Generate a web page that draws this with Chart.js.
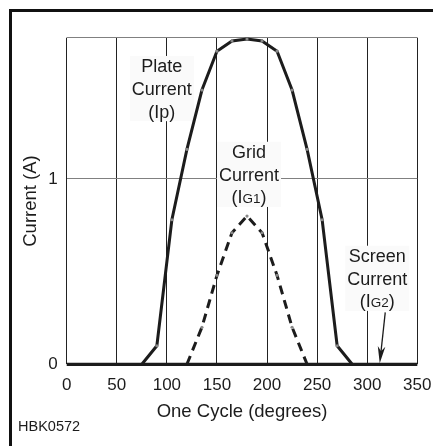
<!DOCTYPE html>
<html><head><meta charset="utf-8">
<script src="https://cdn.jsdelivr.net/npm/chart.js@4/dist/chart.umd.min.js"></script>
<style>html,body{margin:0;padding:0;background:#fff;}canvas{display:block;}</style>
</head><body>
<canvas id="c" width="433" height="446"></canvas>
<script>
// ---- data ----
const xTicks = [0, 50, 100, 150, 200, 250, 300, 350];
const yTicks = [0, 1];
const yMax = 1.7625;
const plateDeg  = [75, 90, 105, 120, 135, 150, 165, 180, 195, 210, 225, 240, 255, 270, 285];
const plateAmps = [0, 0.1, 0.78, 1.16, 1.48, 1.69, 1.745, 1.755, 1.745, 1.69, 1.48, 1.16, 0.78, 0.1, 0];
const gridDeg   = [120, 135, 150, 165, 180, 195, 210, 225, 240];
const gridAmps  = [0, 0.2, 0.48, 0.71, 0.8, 0.71, 0.48, 0.2, 0];
const screenDeg  = [0, 350];
const screenAmps = [0, 0];
const xTitle = 'One Cycle (degrees)';
const yTitle = 'Current (A)';
const figureId = 'HBK0572';
// label text lines; segments starting with "_" are drawn smaller (subscript style)
const plateLabel  = [['Plate'], ['Current'], ['(Ip)']];
const gridLabel   = [['Grid'], ['Current'], ['(I', '_G1', ')']];
const screenLabel = [['Screen'], ['Current'], ['(I', '_G2', ')']];
// label anchors in data units (degrees, amps) of first line centre
const plateAnchor  = [95, 1.61];
const gridAnchor   = [182, 1.147];
const screenAnchor = [310, 0.586];
const arrowFrom = [318, 0.28];
const arrowTo   = [312.5, 0];

const FONT = "'Liberation Sans', Arial, Helvetica, sans-serif";
const INK = '#1c1c1c';
const pts = (xs, ys) => xs.map((x, i) => ({x: x, y: ys[i]}));

const annot = {
  id: 'annot',
  beforeDraw(chart) {
    const ctx = chart.ctx;
    ctx.save();
    ctx.fillStyle = '#fff';
    ctx.fillRect(0, 0, chart.width, chart.height);
    ctx.strokeStyle = '#111';
    ctx.lineWidth = 3;
    ctx.beginPath();
    ctx.moveTo(10.5, chart.height + 5);
    ctx.lineTo(10.5, 10.5);
    ctx.lineTo(chart.width + 5, 10.5);
    ctx.stroke();
    ctx.fillStyle = INK;
    ctx.font = '14.5px ' + FONT;
    ctx.textAlign = 'left';
    ctx.textBaseline = 'middle';
    ctx.fillText(figureId, 18, 427);
    ctx.restore();
  },
  beforeDatasetsDraw(chart) {
    const ctx = chart.ctx;
    const xs = chart.scales.x, ys = chart.scales.y;
    const big = '18px ' + FONT, small = '13.5px ' + FONT;
    const lh = 22.6;
    const drawLabel = (lines, anchor) => {
      const cx = xs.getPixelForValue(anchor[0]);
      const cy0 = ys.getPixelForValue(anchor[1]);
      ctx.save();
      const widths = lines.map(segs => segs.reduce((w, s) => {
        ctx.font = s[0] === '_' ? small : big;
        return w + ctx.measureText(s[0] === '_' ? s.slice(1) : s).width;
      }, 0));
      const maxW = Math.max(...widths);
      ctx.fillStyle = '#fafafa';
      ctx.fillRect(cx - maxW / 2 - 2, cy0 - 10, maxW + 4, lh * (lines.length - 1) + 20);
      ctx.fillStyle = INK;
      ctx.textBaseline = 'alphabetic';
      ctx.textAlign = 'left';
      lines.forEach((segs, i) => {
        let x = cx - widths[i] / 2;
        const base = cy0 + i * lh + 6.5;
        segs.forEach(s => {
          const sm = s[0] === '_';
          const t = sm ? s.slice(1) : s;
          ctx.font = sm ? small : big;
          ctx.fillText(t, x, base);
          x += ctx.measureText(t).width;
        });
      });
      ctx.restore();
    };
    drawLabel(plateLabel, plateAnchor);
    drawLabel(gridLabel, gridAnchor);
    drawLabel(screenLabel, screenAnchor);
  },
  afterDatasetsDraw(chart) {
    const ctx = chart.ctx;
    const xs = chart.scales.x, ys = chart.scales.y;
    const x1 = xs.getPixelForValue(arrowFrom[0]), y1 = ys.getPixelForValue(arrowFrom[1]);
    const x2 = xs.getPixelForValue(arrowTo[0]), y2 = ys.getPixelForValue(arrowTo[1]) - 1;
    const ang = Math.atan2(y2 - y1, x2 - x1);
    const L = 17, W = 3.8, N = 5;
    ctx.save();
    ctx.strokeStyle = INK;
    ctx.fillStyle = INK;
    ctx.lineWidth = 1.3;
    ctx.beginPath();
    ctx.moveTo(x1, y1);
    ctx.lineTo(x2 - Math.cos(ang) * 8, y2 - Math.sin(ang) * 8);
    ctx.stroke();
    const bx = x2 - Math.cos(ang) * L, by = y2 - Math.sin(ang) * L;
    const nx = -Math.sin(ang), ny = Math.cos(ang);
    ctx.beginPath();
    ctx.moveTo(x2, y2);
    ctx.lineTo(bx + nx * W, by + ny * W);
    ctx.lineTo(x2 - Math.cos(ang) * (L - N), y2 - Math.sin(ang) * (L - N));
    ctx.lineTo(bx - nx * W, by - ny * W);
    ctx.closePath();
    ctx.fill();
    ctx.restore();
  }
};

new Chart(document.getElementById('c'), {
  type: 'line',
  data: {
    datasets: [
      { label: 'Screen Current (IG2)', data: pts(screenDeg, screenAmps), borderColor: INK, borderWidth: 3.2,
        pointRadius: 0, tension: 0, clip: false },
      { label: 'Plate Current (Ip)', data: pts(plateDeg, plateAmps), borderColor: INK, borderWidth: 3,
        borderJoinStyle: 'miter', pointRadius: 1.6, pointBackgroundColor: '#888', pointBorderWidth: 0,
        tension: 0, clip: false },
      { label: 'Grid Current (IG1)', data: pts(gridDeg, gridAmps), borderColor: INK, borderWidth: 3,
        borderDash: [9, 6], borderJoinStyle: 'miter', pointRadius: 1.6, pointBackgroundColor: '#888',
        pointBorderWidth: 0, tension: 0, clip: false }
    ]
  },
  options: {
    responsive: false,
    animation: false,
    events: [],
    layout: { padding: { left: 0, top: 37.7, right: 15.7, bottom: 0 } },
    plugins: { legend: { display: false }, tooltip: { enabled: false } },
    scales: {
      x: {
        type: 'linear', min: 0, max: 350,
        afterBuildTicks: s => { s.ticks = xTicks.map(v => ({value: v})); },
        afterFit: s => { s.height = 81.7; s.paddingLeft = 0; s.paddingRight = 0; },
        grid: { color: '#222', lineWidth: 1, drawTicks: false },
        border: { display: false },
        ticks: { color: INK, font: { family: FONT, size: 17 }, padding: 10.5, maxRotation: 0 },
        title: { display: true, text: xTitle, color: INK, font: { family: FONT, size: 18.5 },
                 padding: { top: 0, bottom: 22.5 } }
      },
      y: {
        type: 'linear', min: 0, max: yMax,
        afterBuildTicks: s => { s.ticks = yTicks.concat([yMax]).map(v => ({value: v})); },
        afterFit: s => { s.width = 66.7; s.paddingTop = 0; s.paddingBottom = 0; },
        grid: { color: '#808080', lineWidth: 1, drawTicks: false },
        border: { display: false },
        ticks: { color: INK, font: { family: FONT, size: 17 }, padding: 9,
                 callback: v => yTicks.includes(v) ? String(v) : '' },
        title: { display: true, text: yTitle, color: INK, font: { family: FONT, size: 18.5 },
                 padding: { top: 19.9, bottom: 0 } }
      }
    }
  },
  plugins: [annot]
});
</script>
</body></html>
